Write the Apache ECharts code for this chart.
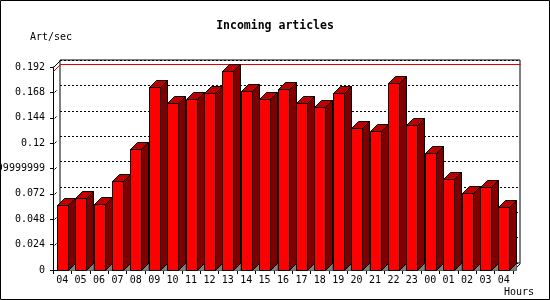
<!DOCTYPE html>
<html>
<head>
<meta charset="utf-8">
<script src="https://cdn.jsdelivr.net/npm/echarts@6/dist/echarts.min.js"></script>
<style>
html,body{margin:0;padding:0;background:#fff;}
#chart{width:550px;height:300px;}
</style>
</head>
<body>
<div id="chart"></div>
<script>
// ---- data ----
var categories = ["04","05","06","07","08","09","10","11","12","13","14","15","16","17","18","19","20","21","22","23","00","01","02","03","04"];
var artPerSec = [0.0611,0.0677,0.0620,0.0840,0.1140,0.1728,0.1583,0.1621,0.1678,0.1886,0.1697,0.1615,0.1716,0.1583,0.1546,0.1678,0.1347,0.1310,0.1772,0.1376,0.1102,0.0856,0.0724,0.0781,0.0592];
var yTickLabels = ["0","0.024","0.048","0.072","0.09599999999","0.12","0.144","0.168","0.192"];
var yStep = 0.024;
var yMax = 0.192;
var titleText = "Incoming articles";
var yName = "Art/sec";
var xName = "Hours";

// ---- styles ----
var DEPTH = 7;
var FONT = "DejaVu Sans Mono";
var maxVal = Math.max.apply(null, artPerSec);

var chart = echarts.init(document.getElementById('chart'), null, {renderer:'canvas'});

function px(v){ return Math.round(v) + 0.5; }

function renderBar(params, api) {
  var i = api.value(0), v = api.value(1);
  var top = api.coord([i, v]);
  var base = api.coord([i, 0]);
  var slot = api.size([1, 0])[0];
  var bw = Math.round(slot * 0.6);
  var x0 = px(top[0] - bw / 2), x1 = x0 + bw;
  var yT = px(top[1]), yB = px(base[1]);
  var d = DEPTH;
  return {
    type: 'group',
    children: [
      { type: 'polygon', shape: { points: [[x1, yB], [x1 + d, yB - d], [x1 + d, yB]] },
        style: { fill: '#808080', stroke: '#606060', lineWidth: 1 } },
      { type: 'polygon', shape: { points: [[x1, yT], [x1 + d, yT - d], [x1 + d, yB - d], [x1, yB]] },
        style: { fill: '#800000', stroke: '#000', lineWidth: 1 } },
      { type: 'polygon', shape: { points: [[x0, yT], [x0 + d, yT - d], [x1 + d, yT - d], [x1, yT]] },
        style: { fill: '#c00000', stroke: '#000', lineWidth: 1 } },
      { type: 'rect', shape: { x: x0, y: yT, width: bw, height: yB - yT },
        style: { fill: '#ff0000', stroke: '#000', lineWidth: 1 } }
    ]
  };
}

function renderFrame(params, api) {
  var slot = api.size([1, 0])[0];
  var xl = px(api.coord([0, 0])[0] - slot / 2);
  var xr = px(api.coord([categories.length - 1, 0])[0] + slot / 2);
  var y0 = px(api.coord([0, 0])[1]);
  var yTop = px(api.coord([0, yMax])[1]);
  var yM = px(api.coord([0, maxVal])[1]);
  var d = DEPTH;
  var children = [
    { type: 'polyline', shape: { points: [[xl, yTop], [xl + d, yTop - d]] }, style: { stroke: '#000', lineWidth: 1, fill: null } },
    { type: 'polyline', shape: { points: [[xr, y0], [xr + d, y0 - d]] }, style: { stroke: '#000', lineWidth: 1, fill: null } },
    { type: 'polyline', shape: { points: [[xl, yM], [xl + d, yM - d], [xr + d, yM - d]] }, style: { stroke: '#e00000', lineWidth: 1, fill: null } }
  ];
  for (var k = 1; k < yTickLabels.length - 1; k++) {
    var yy = px(api.coord([0, k * yStep])[1]);
    children.push({ type: 'polyline', shape: { points: [[xl + 1, yy], [xl + 3, yy - 2]] }, style: { stroke: '#000', lineWidth: 1, fill: null } });
  }
  return { type: 'group', children: children };
}

var barData = artPerSec.map(function (v, i) { return [i, v]; });

var option = {
  backgroundColor: '#fff',
  animation: false,
  title: [
    { text: titleText, left: 'center', top: 20, padding: 0,
      textStyle: { fontFamily: FONT, fontSize: 11.5, fontWeight: 'bold', color: '#000', lineHeight: 13 } },
    { text: yName, left: 30, top: 31, padding: 0,
      textStyle: { fontFamily: FONT, fontSize: 10, fontWeight: 'normal', color: '#000', lineHeight: 12 } },
    { text: xName, right: 16, top: 286, padding: 0,
      textStyle: { fontFamily: FONT, fontSize: 10, fontWeight: 'normal', color: '#000', lineHeight: 12 } }
  ],
  grid: [
    { left: 53, top: 67, width: 460, height: 203, show: false, containLabel: false, outerBoundsMode: 'none' },
    { left: 60, top: 60, width: 460, height: 203, show: true, borderColor: '#000', borderWidth: 1, backgroundColor: 'transparent', containLabel: false, outerBoundsMode: 'none' }
  ],
  xAxis: [
    { type: 'category', gridIndex: 0, data: categories, boundaryGap: true,
      axisLine: { show: true, lineStyle: { color: '#000', width: 1 } },
      axisTick: { show: true, interval: 0, length: 4, lineStyle: { color: '#000' } },
      axisLabel: { interval: 0, margin: 5, color: '#000', fontFamily: FONT, fontSize: 10 },
      splitLine: { show: false } },
    { type: 'category', gridIndex: 1, data: categories, show: false }
  ],
  yAxis: [
    { type: 'value', gridIndex: 0, min: 0, max: yMax, interval: yStep,
      axisLine: { show: true, lineStyle: { color: '#000', width: 1 } },
      axisTick: { show: true, length: 3, lineStyle: { color: '#000' } },
      axisLabel: { margin: 8, color: '#000', fontFamily: FONT, fontSize: 10, showMinLabel: true, showMaxLabel: true,
        formatter: function (val) { return yTickLabels[Math.round(val / yStep)]; } },
      splitLine: { show: false } },
    { type: 'value', gridIndex: 1, min: 0, max: yMax, interval: yStep,
      axisLine: { show: false }, axisTick: { show: false }, axisLabel: { show: false },
      splitLine: { show: true, lineStyle: { color: '#000', width: 1, type: [2, 2] } } }
  ],
  series: [
    { type: 'custom', xAxisIndex: 0, yAxisIndex: 0, renderItem: renderFrame, data: [[0, 0]], z: 1, silent: true },
    { type: 'custom', xAxisIndex: 0, yAxisIndex: 0, renderItem: renderBar, data: barData, z: 3, silent: true }
  ],
  graphic: [
    { type: 'rect', shape: { x: 0.5, y: 0.5, width: 549, height: 299 }, style: { fill: null, stroke: '#000', lineWidth: 1 }, z: 100, silent: true }
  ]
};
chart.setOption(option);
</script>
</body>
</html>
